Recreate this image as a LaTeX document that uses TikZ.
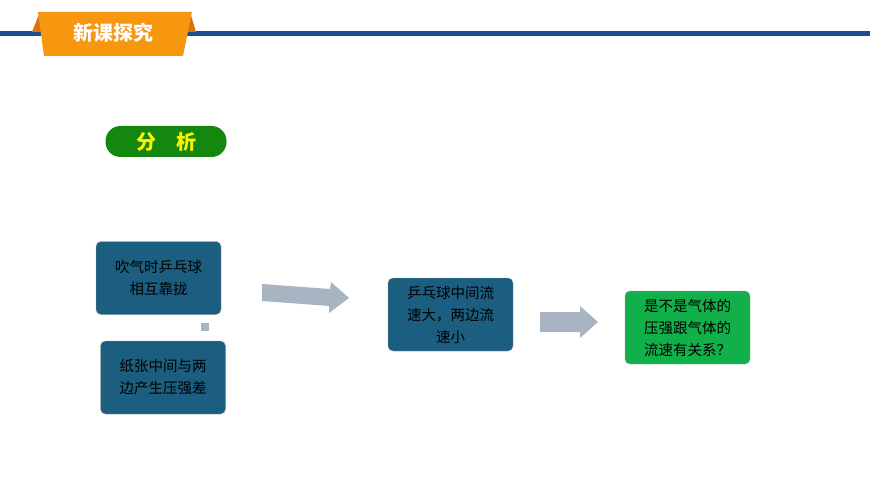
\documentclass[tikz,border=0pt]{standalone}
\usepackage{fontspec}
\setmainfont{Noto Sans CJK SC}
\definecolor{navy}{HTML}{1F4E8C}
\definecolor{org}{HTML}{F7960F}
\definecolor{orgd}{HTML}{D9730A}
\definecolor{teal}{HTML}{1B5E80}
\definecolor{grn}{HTML}{12B04A}
\definecolor{pill}{HTML}{14870E}
\definecolor{arr}{HTML}{A9B4C2}
\begin{document}
\begin{tikzpicture}[x=1pt,y=-1pt,
 box/.style={rounded corners=5pt,draw=black!40,line width=0.4pt,minimum width=125pt,minimum height=73pt,align=center,inner sep=2pt,font=\fontsize{14.5}{22}\selectfont},
 fat/.style={fill=arr,draw=none}]
\useasboundingbox[fill=white] (0,0) rectangle (870,489);
\fill[navy] (0,31) rectangle (870,36);
\fill[orgd] (32,32) -- (40,12) -- (44,32) -- cycle;
\fill[orgd] (183,32) -- (190,12) -- (196,32) -- cycle;
\fill[org] (38,12) -- (192,12) -- (183,56) -- (44,56) -- cycle;
\node[text=white,font=\bfseries\fontsize{20}{22}\selectfont] (title) at (113,33) {新课探究};
\node[fill=pill,rounded corners=15pt,minimum width=121pt,minimum height=31pt,text=yellow,font=\bfseries\fontsize{20}{22}\selectfont] (fx) at (166,141.5) {分\hspace{1em}析};
\node[box,fill=teal] (b1) at (158.5,278) {吹气时乒乓球\\相互靠拢};
\node[box,fill=teal] (b2) at (163,377.5) {纸张中间与两\\边产生压强差};
\node[fill=arr,minimum size=8pt,inner sep=0pt] (sq) at (205,327) {};
\node[box,fill=teal,minimum height=73pt] (b3) at (450.5,314.5) {乒乓球中间流\\速大，两边流\\速小};
\node[box,fill=grn,text=black,minimum height=73pt] (b4) at (687.5,327.5) {是不是气体的\\压强跟气体的\\流速有关系？};
\fill[arr] (262,284) -- (330,289) -- (331,282) -- (349,298) -- (329,313) -- (329,306) -- (262,301) -- cycle;
\fill[arr] (540,312) -- (580,312) -- (580,306) -- (598,322) -- (580,338) -- (580,332) -- (540,332) -- cycle;
\end{tikzpicture}
\end{document}
